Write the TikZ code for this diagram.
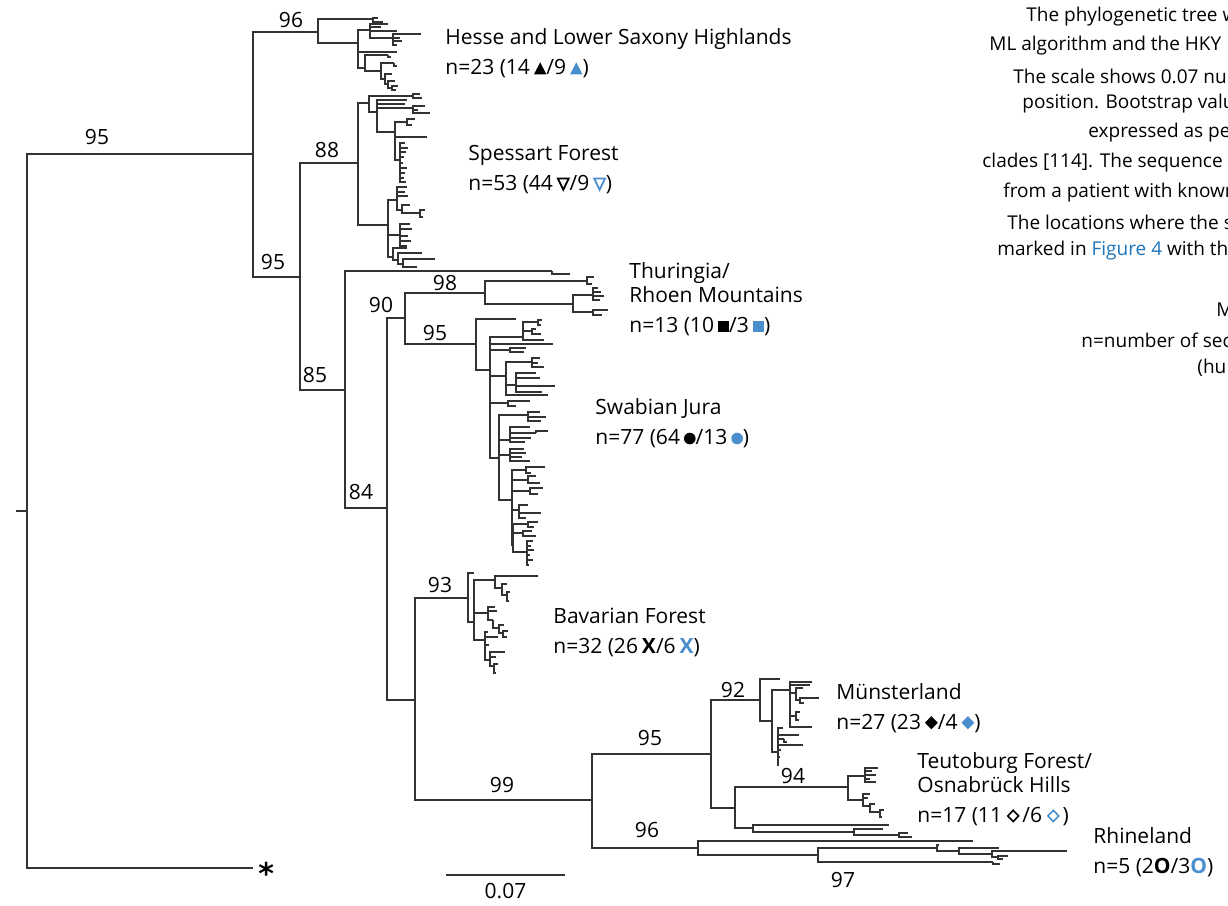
\documentclass[tikz,border=0pt]{standalone}
\usepackage{fontspec}
\setmainfont{Open Sans}
\newfontfamily\symfont{DejaVu Sans}
\usetikzlibrary{positioning}

\definecolor{symblue}{RGB}{74,142,206}
\definecolor{linkblue}{RGB}{28,116,186}

% small region marks
\newcommand{\trimk}[1]{\kern2pt\tikz[x=1pt,y=1pt,baseline=0pt]\fill[#1] (0,0) -- (6.2,0) -- (3.1,6) -- cycle;}
\newcommand{\dtrimk}[1]{\kern2pt\tikz[x=1pt,y=1pt,baseline=0pt]\draw[#1, line width=0.9pt] (0.4,6.2) -- (5.8,6.2) -- (3.1,0.6) -- cycle;}
\newcommand{\sqmk}[1]{\kern2pt\tikz[x=1pt,y=1pt,baseline=0pt]\fill[#1] (0,0) rectangle (5.6,5.6);}
\newcommand{\dotmk}[1]{\kern2pt\tikz[x=1pt,y=1pt,baseline=0pt]\fill[#1] (2.9,2.9) circle (2.9);}
\newcommand{\diamk}[1]{\kern2pt\tikz[x=1pt,y=1pt,baseline=0pt]\fill[#1] (3.2,0) -- (6.4,3.3) -- (3.2,6.6) -- (0,3.3) -- cycle;}
\newcommand{\odiamk}[1]{\kern2.5pt\tikz[x=1pt,y=1pt,baseline=0pt]\draw[#1, line width=0.8pt] (3,0.4) -- (5.7,3.2) -- (3,6) -- (0.3,3.2) -- cycle;\kern1.5pt}

\tikzset{
  branch/.style={draw=black!80, line width=0.6pt},
  boot/.style={font=\fontsize{10.5}{12}\selectfont, inner sep=0pt},
  region/.style={anchor=west, align=left, inner sep=0pt, font=\fontsize{10.5}{12}\selectfont},
  caption/.style={anchor=west, inner sep=0pt, font=\fontsize{9.5}{11}\selectfont},
  outmark/.style={anchor=north west, inner sep=0pt, font=\symfont\bfseries\fontsize{15}{15}\selectfont},
}

\begin{document}
\begin{tikzpicture}[x=0.5pt, y=-0.5pt]
    \useasboundingbox (0,0) rectangle (1228,906);

    % Backbone of the tree
    \coordinate (stub) at (16,511);
    \coordinate (root) at (27,511);
    \coordinate (n253) at (253,154);
    \coordinate (outg) at (253,868);
    \coordinate (hesse) at (318,32);
    \coordinate (n95b) at (300,277);
    \coordinate (spess) at (358,163);
    \coordinate (n85) at (345,390);
    \coordinate (thone) at (552,271);
    \coordinate (n84) at (387,508);
    \coordinate (n90) at (405,318);
    \coordinate (thur) at (485,293);
    \coordinate (swab) at (476,344);
    \coordinate (n415) at (415,700);
    \coordinate (bav) at (468,598);
    \coordinate (n99) at (592,800);
    \coordinate (n95d) at (711,754);
    \coordinate (muen) at (760,700);
    \coordinate (teut) at (735,808);
    \coordinate (rhine) at (698,848);

    \draw[branch] (stub) -- (root);
    \foreach \p/\c in {root/n253, root/outg, n253/hesse, n253/n95b, n95b/spess,
        n95b/n85, n85/thone, n85/n84, n84/n90, n84/n415, n90/thur, n90/swab,
        n415/bav, n415/n99, n99/n95d, n99/rhine, n95d/muen, n95d/teut}
        \draw[branch] (\p) |- (\c);

    % Hesse and Lower Saxony Highlands
    \foreach \a/\b/\c/\d in {318/32/373/19, 373/19/383/22, 373/19/378/18,
        318/32/358/43, 358/43/370/30, 370/30/388/24, 370/30/381/27, 370/30/397/31,
        370/30/393/38, 393/38/421/34, 393/38/400/38, 393/38/402/41, 393/38/397/45,
        358/43/397/52, 358/43/365/68, 365/68/388/55, 388/55/391/57, 365/68/381/71,
        381/71/394/63, 394/63/397/66, 381/71/385/79, 385/79/392/74, 385/79/388/84,
        388/84/395/81, 388/84/392/88, 392/88/398/86, 392/88/396/90}
        \draw[branch] (\a,\b) |- (\c,\d);

    % Spessart Forest
    \foreach \a/\b/\c/\d in {358/163/369/103, 369/103/413/96, 413/96/420/94,
        413/96/422/98, 369/103/377/112, 377/112/407/100, 377/112/405/104,
        377/112/413/108, 413/108/425/106, 413/108/418/110, 413/108/430/113,
        377/112/395/132, 395/132/407/122, 407/122/415/119, 407/122/412/125,
        395/132/427/137, 395/132/400/160, 400/160/405/143, 400/160/408/148,
        400/160/406/152, 400/160/404/157, 400/160/403/163, 400/160/407/168,
        400/160/405/173, 400/160/404/178, 400/160/406/182,
        358/163/388/225, 388/225/397/200, 397/200/407/187, 397/200/405/192,
        397/200/408/196, 397/200/402/210, 402/210/420/213, 420/213/425/210,
        420/213/423/217, 402/210/410/205, 388/225/400/235, 400/235/410/224,
        400/235/412/229, 400/235/408/236, 400/235/411/241, 400/235/407/246,
        388/225/393/257, 393/257/407/248, 393/257/398/260, 398/260/422/253,
        398/260/403/264, 403/264/435/259, 403/264/417/267}
        \draw[branch] (\a,\b) |- (\c,\d);

    % Thuringia / Rhoen Mountains
    \foreach \a/\b/\c/\d in {485/293/587/281, 587/281/594/277, 587/281/592/284,
        485/293/573/304, 573/304/593/295, 593/295/598/288, 593/295/601/292,
        593/295/604/296, 593/295/600/300, 573/304/593/312, 593/312/608/310,
        593/312/602/315, 552/271/570/274}
        \draw[branch] (\a,\b) |- (\c,\d);

    % Swabian Jura
    \foreach \a/\b/\c/\d in {476/344/516/319, 476/344/490/370,
        490/370/523/337, 523/337/538/322, 538/322/542/320, 538/322/541/325,
        523/337/532/331, 532/331/536/329, 532/331/541/334, 523/337/544/340,
        490/370/553/344, 490/370/510/350, 510/350/526/348, 510/350/524/352,
        490/370/506/376, 506/376/532/362, 532/362/540/358, 532/362/538/363,
        532/362/544/367, 506/376/516/385, 516/385/536/373, 516/385/540/378,
        516/385/555/386, 516/385/542/392, 506/376/548/395,
        490/370/508/403, 508/403/530/401, 508/403/516/406, 490/370/499/458,
        499/458/528/415, 528/415/540/412, 528/415/546/417, 528/415/541/421,
        499/458/510/440, 510/440/530/427, 510/440/536/433, 536/433/548/431,
        510/440/531/438, 510/440/525/442,
        499/458/510/455, 510/455/524/449, 510/455/526/453, 510/455/522/457,
        510/455/530/461, 499/458/512/500,
        512/500/526/470, 526/470/545/467, 526/470/531/473,
        512/500/528/480, 528/480/536/476, 528/480/540/483,
        512/500/530/491, 530/491/543/488, 530/491/538/494,
        512/500/519/510, 519/510/528/505, 519/510/541/513, 519/510/526/518,
        512/500/513/545, 513/545/528/524, 528/524/538/522, 528/524/534/527,
        513/545/523/533, 523/533/532/531, 523/533/536/536,
        513/545/527/552, 527/552/533/541, 527/552/531/546, 527/552/534/550,
        527/552/530/555, 527/552/533/560, 527/552/529/565}
        \draw[branch] (\a,\b) |- (\c,\d);

    % Bavarian Forest
    \foreach \a/\b/\c/\d in {468/598/474/573, 468/598/474/622,
        474/622/495/580, 495/580/538/576, 495/580/502/588, 502/588/507/584,
        502/588/507/595, 507/595/510/592, 507/595/509/601,
        474/622/488/613, 488/613/495/607, 488/613/497/611, 488/613/493/620,
        493/620/499/628, 499/628/504/625, 499/628/503/633, 503/633/508/631,
        503/633/507/637,
        474/622/485/640, 485/640/488/632, 485/640/498/637, 485/640/489/645,
        485/640/490/660, 490/660/505/652, 490/660/496/657, 490/660/494/666,
        494/666/498/664, 494/666/496/673}
        \draw[branch] (\a,\b) |- (\c,\d);

    % Muensterland
    \foreach \a/\b/\c/\d in {760/700/780/679, 760/700/772/721,
        772/721/790/690, 790/690/812/682, 790/690/810/685, 790/690/796/693,
        796/693/803/688, 796/693/800/700, 800/700/819/698, 800/700/804/703,
        790/690/796/716, 796/716/800/712, 796/716/799/720, 790/690/812/727,
        772/721/778/752, 778/752/783/728, 778/752/799/735, 778/752/784/739,
        784/739/787/742, 778/752/803/745, 778/752/781/750, 778/752/780/757,
        778/752/779/765}
        \draw[branch] (\a,\b) |- (\c,\d);

    % Teutoburg Forest / Osnabrueck Hills
    \foreach \a/\b/\c/\d in {735/808/848/787,
        848/787/865/776, 865/776/878/768, 865/776/872/771, 865/776/876/775,
        865/776/870/779, 865/776/876/782,
        848/787/863/800, 863/800/870/794, 863/800/868/798, 863/800/870/806,
        870/806/875/804, 870/806/880/812, 880/812/884/810, 880/812/882/817,
        735/808/753/828, 753/828/889/825, 753/828/854/832, 854/832/883/829,
        854/832/899/835, 899/835/908/833, 899/835/912/837}
        \draw[branch] (\a,\b) |- (\c,\d);

    % Rhineland
    \foreach \a/\b/\c/\d in {698/848/973/841, 698/848/818/855,
        818/855/937/848, 937/848/939/845, 937/848/959/851, 959/851/999/848,
        959/851/992/854, 992/854/1067/851, 992/854/998/857, 998/857/1008/856,
        998/857/1003/859, 818/855/993/862, 993/862/1000/864}
        \draw[branch] (\a,\b) |- (\c,\d);

    % Bootstrap values
    \node[boot] (b1) at (97,137) {95};
    \node[boot] (b2) at (291,20) {96};
    \node[boot] (b3) at (273,262) {95};
    \node[boot] (b4) at (327,150) {88};
    \node[boot] (b5) at (315,375) {85};
    \node[boot] (b6) at (361,492) {84};
    \node[boot] (b7) at (381,305) {90};
    \node[boot] (b8) at (445,283) {98};
    \node[boot] (b9) at (435,333) {95};
    \node[boot] (b10) at (440,585) {93};
    \node[boot] (b11) at (502,785) {99};
    \node[boot] (b12) at (650,738) {95};
    \node[boot] (b13) at (733,690) {92};
    \node[boot] (b14) at (793,776) {94};
    \node[boot] (b15) at (647,830) {96};
    \node[boot] (b16) at (843,880) {97};

    % Outgroup and scale
    \node[outmark] (ogmark) at (258,862) {*};
    \coordinate (sbl) at (446,875);
    \coordinate (sbr) at (565,875);
    \draw[branch] (sbl) -- (sbr) node[boot, midway, below=4pt] (scale) {0.07};

    % Regions
    \node[region] (lhesse) at (445,53) {Hesse and Lower Saxony Highlands\\[3pt]n=23 (14\trimk{black}/9\trimk{symblue})};
    \node[region] (lspess) at (468,170) {Spessart Forest\\[3pt]n=53 (44\dtrimk{black}/9\dtrimk{symblue})};
    \node[region] (lthur) at (629,299) {Thuringia/\\Rhoen Mountains\\[3pt]n=13 (10\sqmk{black}/3\sqmk{symblue})};
    \node[region] (lswab) at (595,423) {Swabian Jura\\[3pt]n=77 (64\dotmk{black}/13\dotmk{symblue})};
    \node[region] (lbav) at (553,632) {Bavarian Forest\\[3pt]n=32 (26\kern2pt\textbf{X}/6\kern2pt\textcolor{symblue}{\textbf{X}})};
    \node[region] (lmuen) at (836,708) {Münsterland\\[3pt]n=27 (23\diamk{black}/4\diamk{symblue})};
    \node[region] (lteut) at (917,789) {Teutoburg Forest/\\Osnabrück Hills\\[3pt]n=17 (11\odiamk{black}/6\odiamk{symblue})};
    \node[region] (lrhine) at (1093,852) {Rhineland\\[3pt]n=5 (2\textbf{O}/3\textcolor{symblue}{\textbf{O}})};

    % Caption text, cut at the right edge
    \node[caption] (c1) at (1026,17) {The phylogenetic tree w};
    \node[caption] (c2) at (989,46) {ML algorithm and the HKY};
    \node[caption] (c3) at (1013,76) {The scale shows 0.07 nu};
    \node[caption] (c4) at (1022,104) {position. Bootstrap valu};
    \node[caption] (c5) at (1088,133) {expressed as pe};
    \node[caption] (c6) at (982,163) {clades [114]. The sequence r};
    \node[caption] (c7) at (1003,193) {from a patient with known};
    \node[caption] (c8) at (1007,222) {The locations where the s};
    \node[caption] (c9) at (997,251) {marked in \textcolor{linkblue}{Figure 4} with th};
    \node[caption] (c10) at (1216,310) {M};
    \node[caption] (c11) at (1081,340) {n=number of sec};
    \node[caption] (c12) at (1197,368) {(hu};
\end{tikzpicture}
\end{document}
